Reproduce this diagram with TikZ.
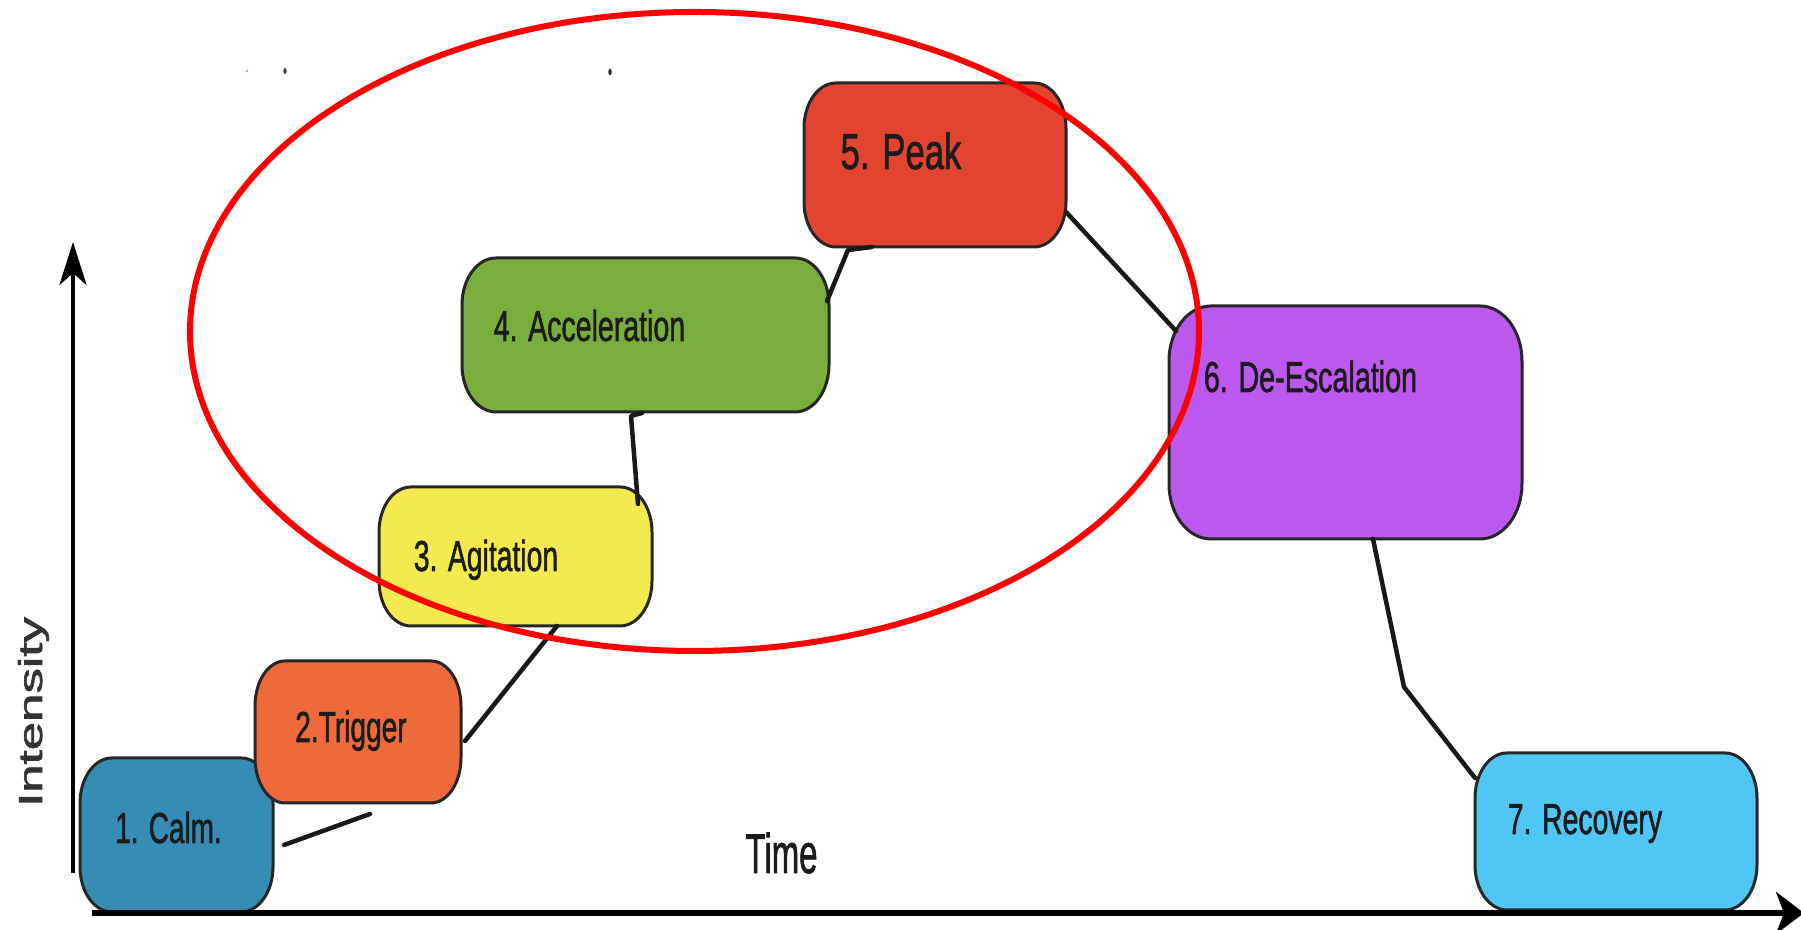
\documentclass[tikz,border=0pt]{standalone}
\usepackage{fontspec}
\usepackage{graphicx}
\setmainfont{Liberation Sans}
\newfontfamily\labelfont[FakeBold=1.6]{Liberation Sans}
\usetikzlibrary{arrows.meta,calc}

\definecolor{calmblue}{RGB}{53,140,180}
\definecolor{triggerorange}{RGB}{238,106,58}
\definecolor{agityellow}{RGB}{242,234,78}
\definecolor{accelgreen}{RGB}{122,174,60}
\definecolor{peakred}{RGB}{226,68,48}
\definecolor{deescpurple}{RGB}{188,88,238}
\definecolor{recoveryblue}{RGB}{80,198,245}
\definecolor{labelink}{RGB}{28,28,28}

% condensed label text
\newcommand\narrowtext[2]{\scalebox{#1}[1]{#2}}

% stage box: name, cx, cy, width, height, corner x radius, corner y radius, fill (all lengths in 0.1mm)
\newcommand\stagebox[8]{%
  \node[stagefrm, minimum width=#4*0.1mm, minimum height=#5*0.1mm] (#1) at (#2,#3) {};
  \draw[boxline, fill=#8]
    ($(#1.south west)+(#6,0)$) -- ($(#1.south east)+(-#6,0)$)
    arc[start angle=-90, end angle=0, x radius=#6*0.1mm, y radius=#7*0.1mm]
    -- ($(#1.north east)+(0,-#7)$)
    arc[start angle=0, end angle=90, x radius=#6*0.1mm, y radius=#7*0.1mm]
    -- ($(#1.north west)+(#6,0)$)
    arc[start angle=90, end angle=180, x radius=#6*0.1mm, y radius=#7*0.1mm]
    -- ($(#1.south west)+(0,#7)$)
    arc[start angle=180, end angle=270, x radius=#6*0.1mm, y radius=#7*0.1mm]
    -- cycle;
}

\tikzset{
  stagefrm/.style={rectangle, draw=none, inner sep=0pt, outer sep=0pt},
  boxline/.style={draw=black!85, line width=0.3mm},
  stagelabel/.style={anchor=base, inner sep=0pt, text=labelink,
    font=\labelfont\fontsize{12.3}{14}\selectfont},
  link/.style={draw=black!90, line width=0.45mm, line cap=round, line join=round},
  axisline/.style={draw=black, line cap=butt},
}

\begin{document}
\begin{tikzpicture}[x=0.1mm, y=0.1mm]
  \useasboundingbox (0,0) rectangle (1801,930);
  \fill[white] (0,0) rectangle (1801,930);

  % stages
  \stagebox{calm}{176.5}{95}{193}{154}{32}{45}{calmblue}
  \stagebox{trigger}{358}{198}{206}{142}{30}{45}{triggerorange}
  \stagebox{agitation}{515.5}{373.5}{273}{139}{32}{45}{agityellow}
  \stagebox{accel}{645.5}{595}{367}{154}{34}{47}{accelgreen}
  \stagebox{peak}{935}{765}{262}{164}{32}{45}{peakred}
  \stagebox{deesc}{1345.5}{507.5}{353}{233}{42}{55}{deescpurple}
  \stagebox{recovery}{1616}{98.5}{282}{157}{32}{45}{recoveryblue}

  % stage labels
  \node[stagelabel] (calmtxt) at (168.5,87) {\narrowtext{0.645}{1. Calm.}};
  \node[stagelabel] (triggertxt) at (351,188) {\narrowtext{0.65}{2.Trigger}};
  \node[stagelabel] (agitationtxt) at (486,359) {\narrowtext{0.655}{3. Agitation}};
  \node[stagelabel] (acceltxt) at (589.5,589) {\narrowtext{0.66}{4. Acceleration}};
  \node[stagelabel, font=\labelfont\fontsize{14.3}{16}\selectfont] (peaktxt) at (901,761) {\narrowtext{0.69}{5. Peak}};
  \node[stagelabel] (deesctxt) at (1310.5,538) {\narrowtext{0.664}{6. De-Escalation}};
  \node[stagelabel] (recoverytxt) at (1585,96) {\narrowtext{0.658}{7. Recovery}};

  % connectors between stages
  \draw[link] ($(calm.east)+(11,-10)$) -- ($(trigger.south)+(12,-11)$);
  \draw[link] ($(trigger.east)+(4,-9)$) -- ($(agitation.south)+(41.5,0)$);
  \draw[link] ($(agitation.north east)+(-14,-17)$) -- ($(accel.south)+(-14.5,-4)$) -- ($(accel.south)+(-3.5,-1)$);
  \draw[link] ($(accel.east)+(-2,34)$) -- ($(peak.south)+(-87,-3)$) -- ($(peak.south)+(-63,0)$);
  \draw[link] ($(peak.east)+(0,-47)$) -- ($(deesc.north west)+(7,-25)$);
  \draw[link] ($(deesc.south)+(27.5,0)$) -- ($(deesc.south)+(58.5,-148)$) -- ($(recovery.north west)+(0,-25)$);

  % axes
  \coordinate (ybottom) at (73,57);
  \coordinate (ytop) at (73,688);
  \coordinate (xleft) at (92,17);
  \coordinate (xright) at (1804,17);
  \draw[axisline, line width=0.45mm, -{Stealth[length=4.3mm, width=2.7mm, inset=1.2mm]}] (ybottom) -- (ytop);
  \draw[axisline, line width=0.65mm, -{Stealth[length=2.8mm, width=4.2mm, inset=0.8mm]}] (xleft) -- (xright);

  % axis titles
  \node[anchor=base, inner sep=0pt, text=black!80, rotate=90,
        font=\labelfont\fontsize{14.5}{16}\selectfont] (ytitle) at (42,218) {\scalebox{1}[0.65]{Intensity}};
  \node[anchor=base, inner sep=0pt, text=labelink,
        font=\labelfont\fontsize{15.9}{18}\selectfont] (xtitle) at (781.5,57) {\narrowtext{0.59}{Time}};

  % small specks near the top
  \fill[black!30] (247,859) circle[radius=0.15mm];
  \fill[black!75] (285,859) ellipse[x radius=0.17mm, y radius=0.3mm];
  \fill[black!85] (610,858) ellipse[x radius=0.17mm, y radius=0.32mm];

  % highlight ring
  \draw[red, line width=0.6mm] (694.5,598.5) ellipse[x radius=50.45mm, y radius=31.95mm];
\end{tikzpicture}
\end{document}
